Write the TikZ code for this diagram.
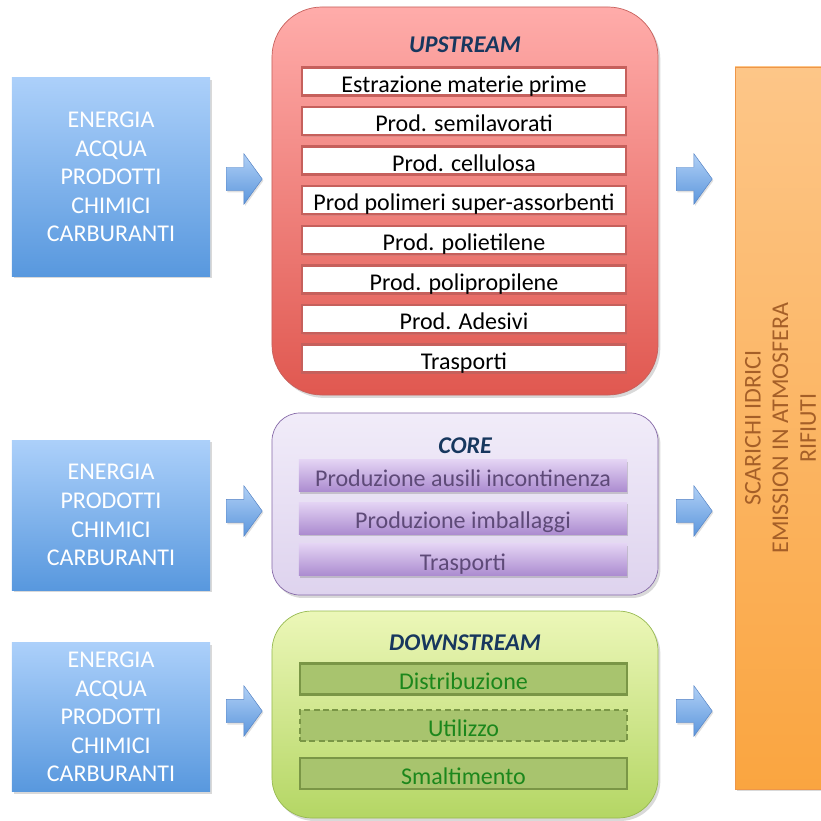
\documentclass[tikz,border=0pt]{standalone}
\usepackage{fontspec}
\setmainfont{Carlito}
\usepackage{xcolor}
\usetikzlibrary{shapes.arrows,shadows,positioning}

\definecolor{titleblue}{RGB}{23,55,94}
\definecolor{inTop}{RGB}{172,208,250}
\definecolor{inBot}{RGB}{88,152,222}
\definecolor{arrTop}{RGB}{176,208,246}
\definecolor{arrBot}{RGB}{92,150,220}
\definecolor{arrLine}{RGB}{84,130,196}
\definecolor{upTop}{RGB}{255,172,170}
\definecolor{upBot}{RGB}{224,88,80}
\definecolor{upLine}{RGB}{198,96,92}
\definecolor{coreTop}{RGB}{241,236,249}
\definecolor{coreBot}{RGB}{222,211,238}
\definecolor{coreLine}{RGB}{134,106,168}
\definecolor{coreItemTop}{RGB}{228,212,244}
\definecolor{coreItemBot}{RGB}{172,140,208}
\definecolor{coreText}{RGB}{94,74,120}
\definecolor{downTop}{RGB}{236,247,184}
\definecolor{downBot}{RGB}{180,214,100}
\definecolor{downLine}{RGB}{150,185,80}
\definecolor{downItem}{RGB}{168,196,110}
\definecolor{downItemLine}{RGB}{122,150,70}
\definecolor{downText}{RGB}{28,135,28}
\definecolor{outTop}{RGB}{253,198,136}
\definecolor{outBot}{RGB}{250,165,64}
\definecolor{outLine}{RGB}{238,150,72}
\definecolor{outText}{RGB}{165,95,40}

\begin{document}
\begin{tikzpicture}[x=0.03cm, y=-0.03cm, font=\fontsize{20.5}{24.4}\selectfont]

\useasboundingbox (0,0) rectangle (821,821);

% Styles
\tikzstyle{inbox}=[rectangle, top color=inTop, bottom color=inBot, text=white, align=center, minimum width=5.94cm, inner sep=0pt, drop shadow={opacity=0.3, shadow xshift=1.5pt, shadow yshift=-2pt}]
\tikzstyle{blockarrow}=[single arrow, top color=arrTop, bottom color=arrBot, draw=arrLine, line width=0.4pt, minimum height=1.08cm, inner xsep=0pt, inner ysep=0.345cm, single arrow head extend=0.405cm, single arrow tip angle=108, anchor=tail, drop shadow={opacity=0.25, shadow xshift=1pt, shadow yshift=-1.5pt}]
\tikzstyle{phase}=[rectangle, line width=0.6pt, minimum width=11.58cm, inner sep=0pt, drop shadow={opacity=0.3, shadow xshift=2pt, shadow yshift=-2.5pt}]
\tikzstyle{phasetitle}=[anchor=base, text=titleblue, font=\fontsize{20.5}{24}\selectfont\bfseries\itshape]
\tikzstyle{upitem}=[rectangle, fill=white, draw=upLine, line width=2pt, minimum width=9.72cm, minimum height=0.84cm, inner sep=0pt, text height=18pt, text depth=0pt, drop shadow={opacity=0.2, shadow xshift=1pt, shadow yshift=-1.5pt}]
\tikzstyle{coreitem}=[rectangle, top color=coreItemTop, bottom color=coreItemBot, text=coreText, minimum width=9.84cm, minimum height=0.96cm, inner sep=0pt, text height=18pt, text depth=0pt, drop shadow={opacity=0.35, shadow xshift=1pt, shadow yshift=-2pt}]
\tikzstyle{downitem}=[rectangle, fill=downItem, draw=downItemLine, line width=2pt, text=downText, minimum width=9.81cm, minimum height=0.93cm, inner sep=0pt, text height=18pt, text depth=0pt]

% Inputs
\node[inbox, minimum height=5.94cm] (in1) at (111,177) {ENERGIA\\ACQUA\\PRODOTTI\\CHIMICI\\CARBURANTI};
\node[inbox, minimum height=4.5cm] (in2) at (111,515) {ENERGIA\\PRODOTTI\\CHIMICI\\CARBURANTI};
\node[inbox, minimum height=4.47cm] (in3) at (111,717) {ENERGIA\\ACQUA\\PRODOTTI\\CHIMICI\\CARBURANTI};

% Phases
\node[phase, top color=upTop, bottom color=upBot, draw=upLine, minimum height=11.64cm, rounded corners=1.5cm] (upstream) at (465,201) {};
\node[phase, top color=coreTop, bottom color=coreBot, draw=coreLine, minimum height=5.46cm, rounded corners=0.84cm] (core) at (465,504) {};
\node[phase, top color=downTop, bottom color=downBot, draw=downLine, minimum height=6.21cm, rounded corners=1.2cm] (downstream) at (465,714.5) {};

\node[phasetitle] (upTitle) at (465,53) {UPSTREAM};
\node[phasetitle] (coreTitle) at (465,453) {CORE};
\node[phasetitle] (downTitle) at (465,650) {DOWNSTREAM};

% Upstream steps
\node[upitem] (up1) at (464,81.5) {Estrazione materie prime};
\node[upitem] (up2) at (464,121) {Prod. semilavorati};
\node[upitem] (up3) at (464,160.5) {Prod. cellulosa};
\node[upitem] (up4) at (464,200) {Prod polimeri super-assorbenti};
\node[upitem] (up5) at (464,240) {Prod. polietilene};
\node[upitem] (up6) at (464,279.5) {Prod. polipropilene};
\node[upitem] (up7) at (464,319) {Prod. Adesivi};
\node[upitem] (up8) at (464,358.5) {Trasporti};

% Core steps
\node[coreitem] (core1) at (463,475.5) {Produzione ausili incontinenza};
\node[coreitem] (core2) at (463,518) {Produzione imballaggi};
\node[coreitem] (core3) at (463,559.5) {Trasporti};

% Downstream steps
\node[downitem] (down1) at (463.5,679) {Distribuzione};
\node[downitem, dashed, dash pattern=on 5pt off 3pt] (down2) at (463.5,725.5) {Utilizzo};
\node[downitem] (down3) at (463.5,773.5) {Smaltimento};

% Outputs
\node[rectangle, top color=outTop, bottom color=outBot, draw=outLine, line width=0.6pt, minimum width=3cm, minimum height=21.66cm, inner sep=0pt, drop shadow={opacity=0.3, shadow xshift=1.5pt, shadow yshift=-2pt}] (out) at (785,428) {};
\node[rotate=90, align=center, inner sep=0pt, text=outText, font=\fontsize{20.5}{23.6}\selectfont] (outText) at (780.5,428) {SCARICHI IDRICI\\EMISSION IN ATMOSFERA\\RIFIUTI};

% Arrows
\node[blockarrow] (a1) at (226,179) {};
\node[blockarrow] (a2) at (226,511) {};
\node[blockarrow] (a3) at (226,711) {};
\node[blockarrow] (b1) at (676,179) {};
\node[blockarrow] (b2) at (676,511) {};
\node[blockarrow] (b3) at (676,711) {};

\end{tikzpicture}
\end{document}
